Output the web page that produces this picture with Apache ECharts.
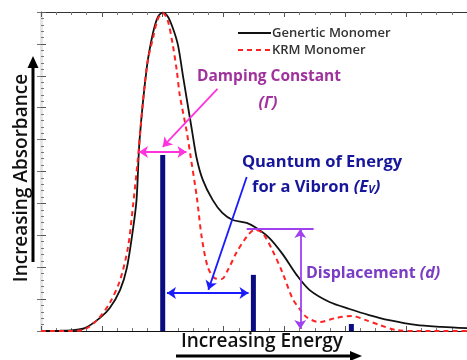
<!DOCTYPE html>
<html>
<head>
<meta charset="utf-8">
<script src="https://cdn.jsdelivr.net/npm/echarts@6/dist/echarts.min.js"></script>
<style>
  html, body { margin: 0; padding: 0; background: #fff; }
  #chart { width: 467px; height: 360px; }
</style>
</head>
<body>
<div id="chart"></div>
<script>
// Absorbance spectra (arbitrary units), energy on x, absorbance on y
const genericMonomer = [
  [0, 0], [0.31, 0.01], [0.48, 0.02], [0.72, 0.09], [0.97, 0.41], [1.13, 0.72],
  [1.30, 1.29], [1.41, 1.97], [1.51, 3.17], [1.57, 4.11], [1.62, 5.99], [1.74, 8.28],
  [1.84, 9.34], [1.92, 9.84], [2.00, 9.98], [2.08, 9.87], [2.16, 9.53], [2.25, 8.97],
  [2.33, 8.03], [2.41, 7.1], [2.48, 6.3], [2.56, 5.4], [2.66, 4.73], [2.82, 4.11],
  [2.98, 3.70], [3.15, 3.48], [3.38, 3.39], [3.54, 3.23], [3.75, 2.92], [3.97, 2.41],
  [4.20, 1.76], [4.41, 1.29], [4.74, 0.91], [5.07, 0.69], [5.39, 0.50], [5.72, 0.34],
  [6.16, 0.19], [6.59, 0.13], [7.0, 0.09]
];
const krmMonomer = [
  [0, 0], [0.48, 0], [0.69, 0.03], [0.92, 0.34], [1.13, 0.88], [1.30, 1.60],
  [1.43, 2.63], [1.51, 3.89], [1.59, 5.36], [1.67, 7.08], [1.75, 8.43], [1.84, 9.18],
  [1.92, 9.78], [2.00, 9.97], [2.08, 9.75], [2.16, 9.03], [2.23, 8.18], [2.28, 7.40],
  [2.39, 6.30], [2.46, 5.45], [2.56, 4.20], [2.64, 2.95], [2.74, 2.01], [2.85, 1.66],
  [2.97, 1.63], [3.07, 1.91], [3.21, 2.45], [3.38, 2.95], [3.51, 3.17], [3.64, 3.07],
  [3.80, 2.54], [3.97, 1.82], [4.13, 1.03], [4.25, 0.69], [4.36, 0.44], [4.57, 0.28],
  [4.85, 0.41], [5.11, 0.47], [5.34, 0.34], [5.56, 0.19], [5.84, 0.03], [6.21, 0], [7, 0]
];
// Vibronic stick transitions
const stickEnergy = [2.00, 3.49, 5.10];
const stickHeight = [5.52, 1.76, 0.22];

const chart = echarts.init(document.getElementById('chart'));

const navy = '#0b0b82';
const magenta = '#ff33dd';
const blue = '#1a1aff';
const violet = '#a040f0';
const font = 'Open Sans';

function seg(a, b, color, startArrow, endArrow) {
  const ls = { color, width: 1.8, type: 'solid' };
  return [
    { coord: a, symbol: startArrow ? 'arrow' : 'none', lineStyle: ls },
    { coord: b, symbol: endArrow ? 'arrow' : 'none', lineStyle: ls }
  ];
}

const option = {
  animation: false,
  grid: { left: 41, top: 12, width: 427, height: 319, containLabel: false },
  xAxis: [
    {
      type: 'value', min: 0, max: 7, interval: 1, position: 'bottom',
      axisLine: { lineStyle: { color: '#111', width: 1.2 } },
      axisTick: { inside: true, length: 5, lineStyle: { color: '#555' } },
      minorTick: { show: true, splitNumber: 4, length: 3, lineStyle: { color: '#777' } },
      axisLabel: { show: false }, splitLine: { show: false }
    },
    {
      type: 'value', min: 0, max: 7, interval: 1, position: 'top',
      axisLine: { onZero: false, lineStyle: { color: '#333', width: 1 } },
      axisTick: { inside: true, length: 5, lineStyle: { color: '#555' } },
      minorTick: { show: true, splitNumber: 4, length: 3, lineStyle: { color: '#777' } },
      axisLabel: { show: false }, splitLine: { show: false }
    }
  ],
  yAxis: [
    {
      type: 'value', min: 0, max: 10, interval: 1, position: 'left',
      axisLine: { show: true, lineStyle: { color: '#111', width: 1.2 } },
      axisTick: { inside: true, length: 5, lineStyle: { color: '#555' } },
      minorTick: { show: true, splitNumber: 5, length: 3, lineStyle: { color: '#777' } },
      axisLabel: { show: false }, splitLine: { show: false }
    },
    {
      type: 'value', min: 0, max: 10, interval: 1, position: 'right',
      axisLine: { show: true, lineStyle: { color: '#e4e4e4' } },
      axisTick: { inside: true, length: 4, lineStyle: { color: '#777' } },
      axisLabel: { show: false }, splitLine: { show: false }
    }
  ],
  series: [
    {
      name: 'Sticks', type: 'bar', barWidth: 5, silent: true,
      itemStyle: { color: navy },
      data: stickEnergy.map((e, i) => [e, stickHeight[i]]),
      z: 2
    },
    {
      name: 'Genertic Monomer', type: 'line', smooth: 0.3, symbol: 'none',
      lineStyle: { color: '#111', width: 1.8 },
      data: genericMonomer, z: 3
    },
    {
      name: 'KRM Monomer', type: 'line', smooth: 0.3, symbol: 'none',
      lineStyle: { color: '#ff2222', width: 2, type: [5, 4] },
      data: krmMonomer, z: 4
    },
    {
      // annotation arrows and guide line
      type: 'line', data: [], silent: true, z: 5,
      markLine: {
        silent: true, animation: false, symbolSize: [9, 9],
        label: { show: false },
        data: [
          seg([2.90, 7.59], [2.00, 5.77], magenta, false, true),
          seg([1.61, 5.61], [2.39, 5.61], magenta, true, true),
          seg([3.38, 4.83], [2.75, 1.29], blue, false, true),
          seg([2.07, 1.19], [3.41, 1.19], blue, true, true),
          seg([3.38, 3.20], [4.48, 3.20], violet, false, false),
          seg([4.26, 3.20], [4.26, 0.06], violet, true, true)
        ]
      }
    }
  ],
  graphic: [
    // legend
    { type: 'line', shape: { x1: 238, y1: 33, x2: 271, y2: 33 }, style: { stroke: '#111', lineWidth: 1.8 } },
    { type: 'line', shape: { x1: 238, y1: 50, x2: 271, y2: 50 }, style: { stroke: '#ff2222', lineWidth: 2, lineDash: [5, 4] } },
    {
      type: 'text', x: 272, y: 33,
      style: { text: 'Genertic Monomer', fontFamily: font, fontWeight: 600, fontSize: 13,
        fill: '#333', align: 'left', verticalAlign: 'middle' }
    },
    {
      type: 'text', x: 272, y: 50,
      style: { text: 'KRM Monomer', fontFamily: font, fontWeight: 600, fontSize: 13,
        fill: '#333', align: 'left', verticalAlign: 'middle' }
    },
    // y-axis title with upward arrow
    {
      type: 'text', x: 22, y: 178, rotation: Math.PI / 2, silent: true,
      style: { text: 'Increasing Absorbance', fontFamily: font, fontWeight: 600, fontSize: 19,
        fill: '#111', align: 'center', verticalAlign: 'middle' }
    },
    { type: 'line', shape: { x1: 33, y1: 262, x2: 33, y2: 66 }, style: { stroke: '#000', lineWidth: 3 } },
    { type: 'polygon', shape: { points: [[33, 56], [27.5, 68], [38.5, 68]] }, style: { fill: '#000' } },
    // x-axis title with rightward arrow
    {
      type: 'text', x: 262, y: 342, silent: true,
      style: { text: 'Increasing Energy', fontFamily: font, fontWeight: 600, fontSize: 19,
        fill: '#111', align: 'center', verticalAlign: 'middle' }
    },
    { type: 'line', shape: { x1: 176, y1: 356, x2: 352, y2: 356 }, style: { stroke: '#000', lineWidth: 3 } },
    { type: 'polygon', shape: { points: [[362, 356], [350, 351], [350, 361]] }, style: { fill: '#000' } },
    // annotation labels
    {
      type: 'text', x: 269, y: 77,
      style: { text: 'Damping Constant', fontFamily: font, fontWeight: 700, fontSize: 15.5,
        fill: '#a0329e', align: 'center', verticalAlign: 'middle' }
    },
    {
      type: 'text', x: 268, y: 103,
      style: { text: '(Γ)', fontFamily: font, fontWeight: 700, fontStyle: 'italic', fontSize: 16,
        fill: '#a0329e', align: 'center', verticalAlign: 'middle' }
    },
    {
      type: 'text', x: 322, y: 162,
      style: { text: 'Quantum of Energy', fontFamily: font, fontWeight: 700, fontSize: 16.5,
        fill: '#16169a', align: 'center', verticalAlign: 'middle' }
    },
    {
      type: 'text', x: 252, y: 187,
      style: {
        text: '{n|for a Vibron }{i|(E}{s|V}{i|)}',
        align: 'left', verticalAlign: 'middle',
        rich: {
          n: { fontFamily: font, fontWeight: 700, fontSize: 16.5, fill: '#16169a' },
          i: { fontFamily: font, fontWeight: 700, fontStyle: 'italic', fontSize: 16.5, fill: '#16169a' },
          s: { fontFamily: font, fontWeight: 700, fontStyle: 'italic', fontSize: 11, fill: '#16169a', padding: [6, 0, 0, 0] }
        }
      }
    },
    {
      type: 'text', x: 306, y: 273,
      style: {
        text: '{n|Displacement }{i|(d)}',
        align: 'left', verticalAlign: 'middle',
        rich: {
          n: { fontFamily: font, fontWeight: 700, fontSize: 16, fill: '#7a3cc4' },
          i: { fontFamily: font, fontWeight: 700, fontStyle: 'italic', fontSize: 16, fill: '#7a3cc4' }
        }
      }
    }
  ]
};

chart.setOption(option);
</script>
</body>
</html>
